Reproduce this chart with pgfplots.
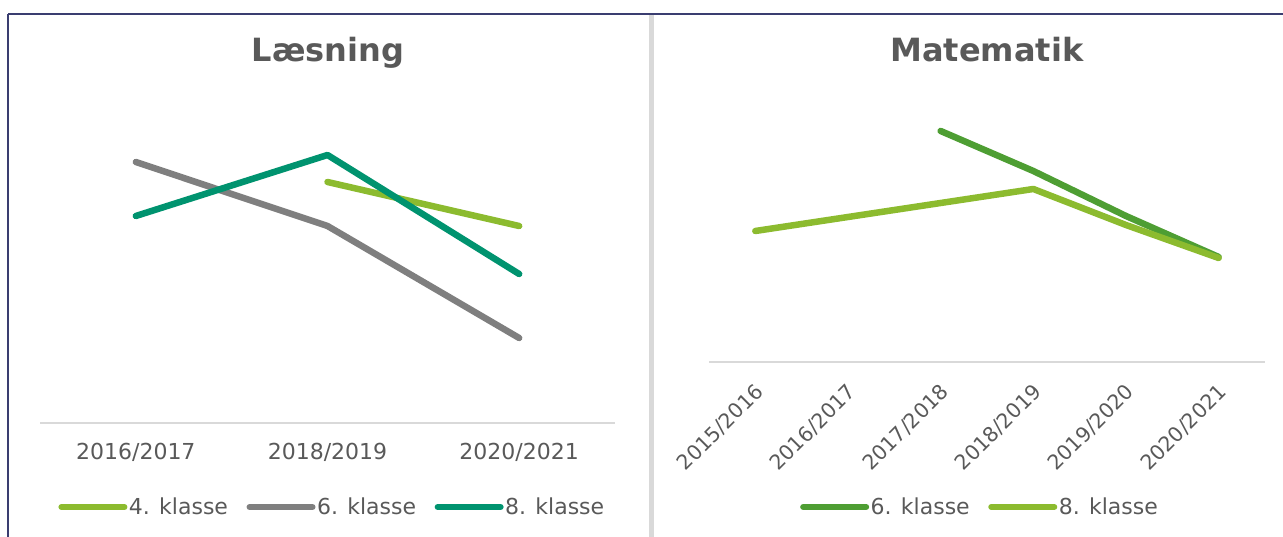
\documentclass[border=0pt]{standalone}
\usepackage{fontspec}
\setmainfont{DejaVu Sans}
\usepackage{pgfplots}
\pgfplotsset{compat=1.18}

\definecolor{txt}{HTML}{595959}
\definecolor{lgreen}{HTML}{8CBB2F}
\definecolor{mgray}{HTML}{7F7F7F}
\definecolor{tealg}{HTML}{00936F}
\definecolor{dgreen}{HTML}{4E9E33}
\definecolor{axgray}{HTML}{D9D9D9}
\definecolor{navy}{HTML}{3A3D70}

\pgfplotsset{
  panel/.style={
    scale only axis,
    clip=false,
    axis x line*=bottom,
    axis y line=none,
    x axis line style={draw=axgray, line width=2pt, -},
    major tick length=0pt,
    ymin=0,
    tick label style={font=\fontsize{22}{26}\selectfont, text=txt},
    legend style={draw=none, fill=none, legend columns=-1,
      font=\fontsize{22}{26}\selectfont, text=txt,
      nodes={inner sep=1.5pt},
      /tikz/every even column/.append style={column sep=17pt}},
    every axis plot/.append style={line width=6.5pt, line cap=round, line join=round},
  },
  legend image code/.code={\draw[#1, line width=6pt, line cap=round] (0pt,0pt) -- (63pt,0pt);},
}

\begin{document}
\begin{tikzpicture}[x=1pt,y=1pt]
\useasboundingbox (0,0) rectangle (1283,537);
% frame and divider
\fill[axgray] (649,0) rectangle (654,522);
\draw[navy, line width=2pt] (8,523) -- (1283,523);
\draw[navy, line width=2pt] (8,523) -- (8,0);

% Laesning
\begin{axis}[panel,
  at={(40pt,114pt)}, anchor=south west,
  width=575pt, height=343pt,
  xmin=-0.5, xmax=2.5, ymax=343,
  xtick={0,1,2},
  xticklabels={2016/2017,2018/2019,2020/2021},
  xticklabel style={yshift=-17pt},
  legend style={at={(0.508,-0.245)}, anchor=center},
]
\addplot[lgreen] coordinates {(1,241) (2,197)};
\addlegendentry{4. klasse}
\addplot[mgray] coordinates {(0,261) (1,197) (2,85)};
\addlegendentry{6. klasse}
\addplot[tealg] coordinates {(0,207) (1,268) (2,149)};
\addlegendentry{8. klasse}
\end{axis}

% Matematik
\begin{axis}[panel,
  at={(709pt,175pt)}, anchor=south west,
  width=556pt, height=282pt,
  xmin=-0.5, xmax=5.5, ymax=282,
  xtick={0,1,2,3,4,5},
  xticklabels={2015/2016,2016/2017,2017/2018,2018/2019,2019/2020,2020/2021},
  xticklabel style={font=\fontsize{20.5}{24}\selectfont, xshift=7pt, yshift=-24pt, rotate=45, anchor=east},
  legend style={at={(0.487,-0.514)}, anchor=center},
]
\addplot[dgreen] coordinates {(2,231) (3,191) (4,146) (5,105)};
\addlegendentry{6. klasse}
\addplot[lgreen] coordinates {(0,131) (1,145) (2,159) (3,173) (4,137) (5,104)};
\addlegendentry{8. klasse}
\end{axis}

\node[anchor=base, font=\bfseries\fontsize{32}{38}\selectfont, text=txt] at (328,475) {Læsning};
\node[anchor=base, font=\bfseries\fontsize{32}{38}\selectfont, text=txt] at (987,475) {Matematik};
\end{tikzpicture}
\end{document}
